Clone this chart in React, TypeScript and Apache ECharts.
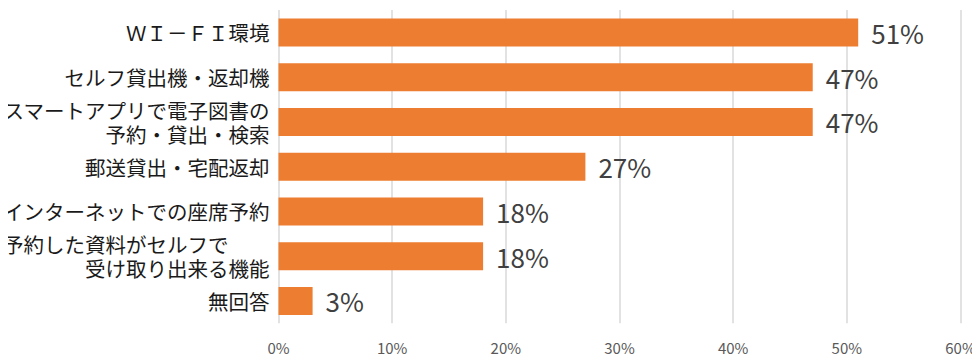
import React, { useEffect, useRef } from "react";
import * as echarts from "echarts";

const categories = [
  "ＷＩ－ＦＩ環境",
  "セルフ貸出機・返却機",
  "スマートアプリで電子図書の\n予約・貸出・検索",
  "郵送貸出・宅配返却",
  "インターネットでの座席予約",
  "予約した資料がセルフで\u3000\u3000\n受け取り出来る機能",
  "無回答",
];
const values = [51, 47, 47, 27, 18, 18, 3];
const xTicks = { min: 0, max: 60, interval: 10 };

export default function App() {
  const ref = useRef<HTMLDivElement>(null);
  useEffect(() => {
    if (!ref.current) return;
    const chart = echarts.init(ref.current, undefined, { renderer: "svg" });
    const font = "'Noto Sans CJK JP', 'Noto Sans', sans-serif";
    chart.setOption({
      animation: false,
      grid: { left: 276.5, right: 19.5, top: 10, bottom: 38.7, containLabel: false },
      xAxis: {
        type: "value",
        min: xTicks.min,
        max: xTicks.max,
        interval: xTicks.interval,
        axisLine: { show: false },
        axisTick: { show: false },
        axisLabel: {
          formatter: "{value}%",
          color: "#595959",
          fontSize: 15,
          fontFamily: font,
          margin: 17,
        },
        splitLine: { show: true, lineStyle: { color: "#D9D9D9", width: 1.5 } },
      },
      yAxis: {
        type: "category",
        inverse: true,
        data: categories,
        axisLine: { show: false },
        axisTick: { show: false },
        axisLabel: {
          margin: 9,
          align: "right",
          formatter: (v: string) =>
            v
              .split("\n")
              .map((l) => `{a|${l}}`)
              .join("\n"),
          rich: {
            a: {
              color: "#1a1a1a",
              fontSize: 20.5,
              lineHeight: 24,
              fontFamily: font,
              align: "right",
            },
          },
        },
      },
      series: [
        {
          type: "bar",
          data: values,
          barWidth: 28,
          itemStyle: { color: "#ED7D31" },
          label: {
            show: true,
            position: "right",
            distance: 13,
            formatter: "{c}%",
            color: "#404040",
            fontSize: 26,
            fontFamily: font,
          },
        },
      ],
    });
    return () => chart.dispose();
  }, []);
  return <div ref={ref} style={{ width: 980, height: 362, margin: -8 }} />;
}
